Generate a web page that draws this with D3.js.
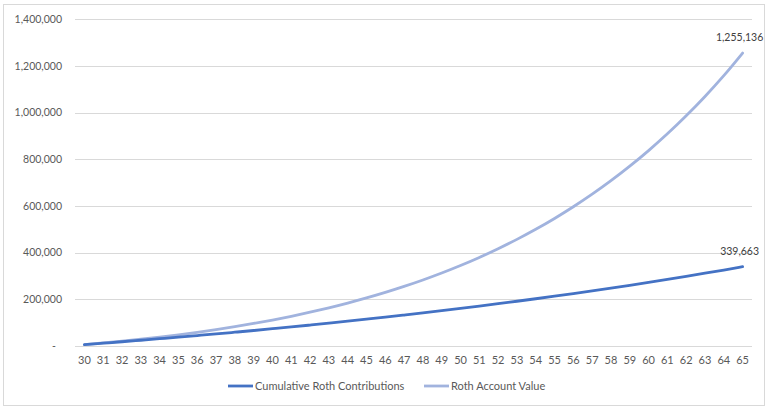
<!DOCTYPE html>
<html>
<head>
<meta charset="utf-8">
<script src="https://cdn.jsdelivr.net/npm/d3@7"></script>
<style>
  html, body { margin: 0; padding: 0; background: #fff; }
  svg { display: block; }
  text { font-family: Lato, "Open Sans", sans-serif; }
</style>
</head>
<body>
<svg id="chart" width="768" height="408"></svg>
<script>
// ---- Data ----
const ages = [30,31,32,33,34,35,36,37,38,39,40,41,42,43,44,45,46,47,48,49,50,51,52,53,54,55,56,57,58,59,60,61,62,63,64,65];
const cumulativeContributions = [5928,12004,18233,24616,31159,37866,44741,51788,59011,66414,74002,81780,89753,97924,106300,114886,123686,132707,141952,151429,161143,171099,181305,191765,202487,213477,224742,236289,248124,260255,272689,285435,298498,311890,325614,339663];
const accountValue = [6340,13279,20863,29140,38163,47989,58676,70290,82900,96580,111408,127469,144855,163662,183995,205965,229691,255302,282933,312733,344856,379472,416759,456911,500134,546648,596688,650507,708375,770581,837436,909269,986435,1069313,1158308,1255136];
const yTicks = [0,200000,400000,600000,800000,1000000,1200000,1400000];
const seriesNames = ["Cumulative Roth Contributions", "Roth Account Value"];
const seriesColors = ["#4472c4", "#a1b3de"];

const svg = d3.select("#chart");

// outer chart border
svg.append("rect")
  .attr("x", 3.5).attr("y", 4.5).attr("width", 761).attr("height", 401)
  .attr("fill", "#fff").attr("stroke", "#d9d9d9").attr("stroke-width", 1);

const plot = { left: 75, right: 752, top: 19.3, bottom: 346 };

const x = d3.scaleBand().domain(ages).range([plot.left, plot.right]).padding(0);
const xc = d => x(d) + x.bandwidth() / 2;
const y = d3.scaleLinear().domain([0, 1400000]).range([plot.bottom, plot.top]);

// gridlines
svg.append("g").selectAll("line").data(yTicks).join("line")
  .attr("x1", plot.left).attr("x2", plot.right)
  .attr("y1", d => Math.round(y(d)) + 0.5).attr("y2", d => Math.round(y(d)) + 0.5)
  .attr("stroke", "#d9d9d9").attr("stroke-width", 1);

// y axis labels
const fmt = d3.format(",");
svg.append("g").selectAll("text").data(yTicks).join("text")
  .attr("x", d => d === 0 ? 56 : 62)
  .attr("y", d => y(d) + 3.8)
  .attr("text-anchor", "end")
  .attr("font-size", 10.5)
  .attr("fill", "#595959")
  .text(d => d === 0 ? "-" : fmt(d));

// x axis labels
svg.append("g").selectAll("text").data(ages).join("text")
  .attr("x", d => xc(d))
  .attr("y", 364)
  .attr("text-anchor", "middle")
  .attr("font-size", 11)
  .attr("fill", "#595959")
  .text(d => d);

// lines
const line = d3.line().x((d, i) => xc(ages[i])).y(d => y(d)).curve(d3.curveMonotoneX);
[[accountValue, 1], [cumulativeContributions, 0]].forEach(([vals, idx]) => {
  svg.append("path").datum(vals)
    .attr("d", line)
    .attr("fill", "none")
    .attr("stroke", seriesColors[idx])
    .attr("stroke-width", 2.8)
    .attr("stroke-linecap", "round")
    .attr("stroke-linejoin", "round");
});

// end labels
const lastAge = ages[ages.length - 1];
[accountValue, cumulativeContributions].forEach(vals => {
  const v = vals[vals.length - 1];
  svg.append("text")
    .attr("x", xc(lastAge) - 3)
    .attr("y", y(v) - 12)
    .attr("text-anchor", "middle")
    .attr("font-size", 10.5)
    .attr("fill", "#404040")
    .text(fmt(v));
});

// legend
const legendItems = [
  { name: seriesNames[0], color: seriesColors[0], x0: 228 },
  { name: seriesNames[1], color: seriesColors[1], x0: 424 }
];
const lg = svg.append("g");
legendItems.forEach(it => {
  lg.append("line")
    .attr("x1", it.x0).attr("x2", it.x0 + 25)
    .attr("y1", 386).attr("y2", 386)
    .attr("stroke", it.color).attr("stroke-width", 2.8);
  lg.append("text")
    .attr("x", it.x0 + 27).attr("y", 390)
    .attr("font-size", 11)
    .attr("fill", "#595959")
    .text(it.name);
});
</script>
</body>
</html>
